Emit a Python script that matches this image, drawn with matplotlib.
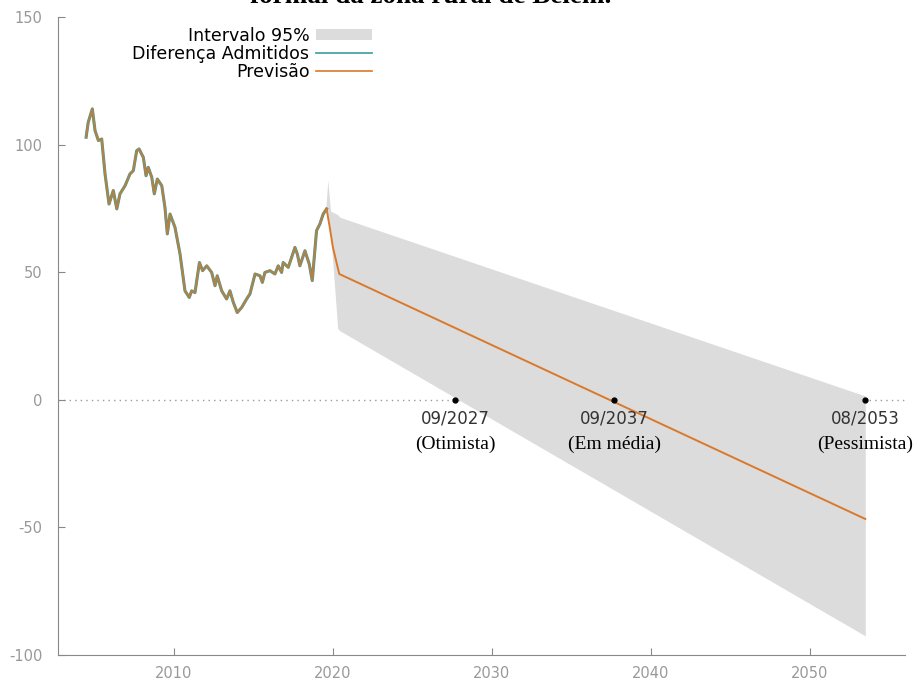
import matplotlib
matplotlib.use("Agg")
import matplotlib.pyplot as plt
from matplotlib.patches import Patch
from matplotlib.lines import Line2D

plt.rcParams["axes.unicode_minus"] = False

# série histórica (diferença de admitidos)
hist_years = [2004.47, 2004.6, 2004.86, 2005.03, 2005.24, 2005.45, 2005.66, 2005.91, 2006.18,
              2006.4, 2006.6, 2006.92, 2007.23, 2007.44, 2007.65, 2007.8, 2008.07, 2008.24,
              2008.38, 2008.6, 2008.76, 2008.95, 2009.23, 2009.43, 2009.58, 2009.75, 2010.06,
              2010.38, 2010.69, 2010.96, 2011.11, 2011.32, 2011.6, 2011.8, 2012.06, 2012.37,
              2012.58, 2012.72, 2013.0, 2013.31, 2013.52, 2013.73, 2013.98, 2014.26, 2014.57,
              2014.78, 2015.1, 2015.41, 2015.56, 2015.72, 2016.04, 2016.35, 2016.56, 2016.77,
              2016.87, 2017.19, 2017.61, 2017.76, 2017.92, 2018.24, 2018.51, 2018.7, 2018.97,
              2019.18, 2019.39, 2019.6]
hist_values = [102.9, 108.7, 114.0, 105.5, 101.6, 102.2, 88.5, 76.7, 82.0,
               74.8, 80.7, 83.9, 88.5, 89.8, 97.6, 98.3, 95.0, 87.8,
               91.1, 87.2, 80.7, 86.5, 83.9, 75.4, 65.0, 72.8, 67.6,
               57.1, 42.7, 40.1, 42.7, 42.0, 53.8, 50.6, 52.5, 49.9,
               44.7, 48.6, 42.7, 39.5, 42.7, 38.2, 34.2, 36.2, 39.5,
               41.5, 49.3, 48.6, 46.0, 49.9, 50.6, 49.3, 52.5, 49.9,
               53.8, 51.9, 59.7, 57.1, 52.5, 58.4, 53.2, 46.7, 66.3,
               68.9, 72.8, 74.8]

# previsão
fc_years = [2019.6, 2019.8, 2020.0, 2020.4, 2053.5]
fc_values = [74.8, 67.6, 59.7, 49.3, -46.7]

# intervalo 95%
band_years = [2019.55, 2019.68, 2019.85, 2020.3, 2020.45, 2053.5]
band_upper = [75, 86, 74, 72.5, 71.5, 1.5]
band_lower = [75, 72, 66, 28, 27, -92.5]

# datas em que cruza o zero
cross_years = [2027.7, 2037.7, 2053.5]
cross_dates = ["09/2027", "09/2037", "08/2053"]
cross_names = ["(Otimista)", "(Em média)", "(Pessimista)"]

teal = "#3a9e9e"
orange = "#d9792b"
gray = "#dcdcdc"

fig = plt.figure(figsize=(9.15, 6.81), dpi=100)
ax = fig.add_axes([58 / 915, 1 - 655 / 681, (905 - 58) / 915, (655 - 17) / 681])

ax.axhline(0, color="#999999", lw=1, ls=(0, (1, 3)), zorder=0)
ax.fill_between(band_years, band_lower, band_upper, color=gray, lw=0, zorder=1)
ax.plot(hist_years, hist_values, color=teal, lw=2.2, zorder=2)
ax.plot(hist_years, hist_values, color=orange, lw=1.6, alpha=0.75, zorder=3)
ax.plot(fc_years, fc_values, color=orange, lw=1.4, zorder=3)

for yr, d, n in zip(cross_years, cross_dates, cross_names):
    ax.plot(yr, 0, "o", color="black", ms=3.5, zorder=4)
    ax.annotate(d, (yr, 0), xytext=(0, -7), textcoords="offset points",
                ha="center", va="top", fontsize=12, color="#333333", family="DejaVu Sans")
    ax.annotate(n, (yr, 0), xytext=(0, -26), textcoords="offset points",
                ha="center", va="top", fontsize=14, color="black", family="Liberation Serif")

ax.set_xlim(2002.7, 2056)
ax.set_ylim(-100, 150)
ax.set_xticks([2010, 2020, 2030, 2040, 2050])
ax.set_yticks([-100, -50, 0, 50, 100, 150])
for s in ["top", "right"]:
    ax.spines[s].set_visible(False)
for s in ["left", "bottom"]:
    ax.spines[s].set_color("#888888")
ax.tick_params(direction="in", length=5, color="#888888", labelcolor="#999999", labelsize=10.5)
ax.tick_params(axis="x", pad=8)
ax.tick_params(axis="y", pad=11)

handles = [Patch(facecolor=gray, edgecolor="none"),
           Line2D([], [], color=teal, lw=1.2),
           Line2D([], [], color=orange, lw=1.2)]
labels = ["Intervalo 95%", "Diferença Admitidos", "Previsão"]
fig.legend(handles, labels, loc="upper right", bbox_to_anchor=(372 / 915, 1 - 27 / 681),
           frameon=False, markerfirst=False, fontsize=12.5, labelspacing=0.0,
           handlelength=3.2, handleheight=0.6, handletextpad=0.4, borderpad=0, borderaxespad=0)

fig.text(431 / 915, 1 - 3 / 681, "formal da zona rural de Belém.", ha="center", va="baseline",
         fontsize=19.5, fontweight="bold", family="Liberation Serif")

fig.savefig("out.png", dpi=100)
